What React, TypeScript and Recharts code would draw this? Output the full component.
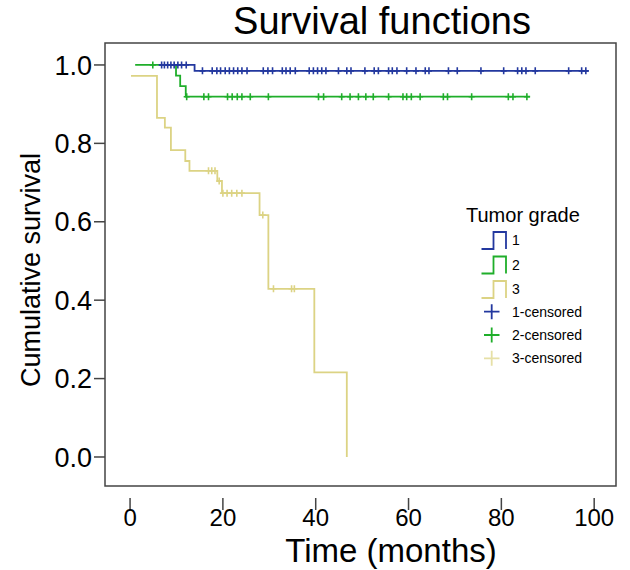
import { ComposedChart, Line, Scatter, XAxis, YAxis, ReferenceArea } from "recharts";

const FONT = "'Liberation Sans', Arial, sans-serif";

// Kaplan-Meier step points (time in months, cumulative survival)
const grade1Times = [6.3, 13.9, 98.8];
const grade1Surv = [1.0, 0.985, 0.985];
const grade1Censored = [
  6.8, 7.4, 8.1, 8.8, 9.5, 10.3, 11.1, 12.1, 15.6, 17.7, 18.7, 19.5, 20.5, 21.4, 22.3, 23.2, 24.1,
  25.2, 28.7, 29.7, 30.7, 32.8, 33.6, 34.5, 35.6, 38.6, 39.5, 40.4, 41.3, 42.2, 44.9, 46.7, 47.6,
  50.6, 52.6, 53.5, 55.7, 56.5, 57.5, 59.6, 61.6, 63.6, 64.4, 68.6, 70.5, 75.6, 80.5, 83.5, 84.4,
  85.3, 87.3, 94.5, 97.3, 98.2,
];

const grade2Times = [1.1, 9.9, 10.8, 12.0, 86.2];
const grade2Surv = [1.0, 0.973, 0.946, 0.919, 0.919];
const grade2Censored = [
  4.9, 12.2, 15.9, 16.9, 21.0, 22.0, 23.1, 24.1, 25.9, 29.8, 40.6, 41.7, 45.6, 47.4, 49.2, 50.8,
  52.4, 55.7, 58.8, 59.6, 60.6, 62.5, 67.5, 68.4, 73.6, 81.5, 82.5, 85.5,
];

const grade3Times = [0.2, 5.8, 7.5, 8.8, 11.9, 12.8, 18.8, 19.8, 27.9, 29.8, 39.7, 46.7];
const grade3Surv = [0.972, 0.865, 0.84, 0.783, 0.755, 0.73, 0.704, 0.673, 0.617, 0.429, 0.216, 0.0];
const grade3Censored = [16.9, 17.6, 18.3, 19.2, 20.0, 20.9, 21.9, 23.0, 24.1, 28.6, 30.9, 34.8, 35.4];

const gradeNames = ["1", "2", "3"];
const gradeColors = ["#23389f", "#1fae2a", "#dcd384"];
const censorColors = ["#23389f", "#1fae2a", "#e6e0a6"];

const xTicks = [0, 20, 40, 60, 80, 100];
const yTicks = [0, 0.2, 0.4, 0.6, 0.8, 1.0];
const xDomain = [-5.4, 104.7];
const yDomain = [-0.074, 1.056];

const toCurve = (times: number[], surv: number[]) => times.map((t, i) => ({ t, s: surv[i] }));

const survivalAt = (times: number[], surv: number[], t: number) => {
  let s = surv[0];
  times.forEach((tt, i) => {
    if (tt <= t) s = surv[i];
  });
  return s;
};

const toCensored = (censored: number[], times: number[], surv: number[]) =>
  censored.map((t) => ({ t, s: survivalAt(times, surv, t) }));

const curves = [
  toCurve(grade1Times, grade1Surv),
  toCurve(grade2Times, grade2Surv),
  toCurve(grade3Times, grade3Surv),
];
const censoredPoints = [
  toCensored(grade1Censored, grade1Times, grade1Surv),
  toCensored(grade2Censored, grade2Times, grade2Surv),
  toCensored(grade3Censored, grade3Times, grade3Surv),
];

const plusShape = (color: string) => (props: any) => {
  const { cx, cy } = props;
  return (
    <path
      d={`M${cx - 3},${cy}H${cx + 3}M${cx},${cy - 3.5}V${cy + 3.5}`}
      stroke={color}
      strokeWidth={1.6}
      fill="none"
    />
  );
};

const XTick = (props: any) => {
  const { x, y, payload } = props;
  return (
    <g>
      <line x1={x} x2={x} y1={y + 12} y2={y + 24} stroke="#444" strokeWidth={1.5} />
      <text x={x} y={y + 40} textAnchor="middle" fontSize={24} fontFamily={FONT} fill="#000">
        {payload.value}
      </text>
    </g>
  );
};

function LegendBox() {
  return (
    <svg width={630} height={570} style={{ position: "absolute", left: 0, top: 0, pointerEvents: "none" }}>
      <text x={466} y={222} fontSize={20} fontFamily={FONT} fill="#000">
        Tumor grade
      </text>
      {gradeNames.map((name, i) => {
        const y0 = 249 + i * 24.5;
        return (
          <g key={name}>
            <path
              d={`M481.5,${y0}H493.5V${y0 - 17}H506V${y0}`}
              stroke={gradeColors[i]}
              strokeWidth={1.8}
              fill="none"
            />
            <text x={512} y={y0 - 4} fontSize={14} fontFamily={FONT} fill="#000">
              {name}
            </text>
          </g>
        );
      })}
      {gradeNames.map((name, i) => {
        const cy = 311.7 + i * 23.3;
        return (
          <g key={`c${name}`}>
            <path
              d={`M484,${cy}H499.5M491.7,${cy - 7.5}V${cy + 7.5}`}
              stroke={censorColors[i]}
              strokeWidth={1.8}
              fill="none"
            />
            <text x={512} y={cy + 5} fontSize={14} fontFamily={FONT} fill="#000">
              {`${name}-censored`}
            </text>
          </g>
        );
      })}
    </svg>
  );
}

export default function App() {
  return (
    <div style={{ position: "absolute", left: 0, top: 0, width: 630, height: 570, background: "#fff" }}>
      <div
        style={{
          position: "absolute",
          left: 0,
          width: 764,
          top: 0,
          textAlign: "center",
          fontFamily: FONT,
          fontSize: 38,
          lineHeight: "42px",
          color: "#000",
        }}
      >
        Survival functions
      </div>
      <div style={{ position: "absolute", left: 0, top: 0 }}>
        <ComposedChart width={630} height={570} margin={{ top: 43, right: 14, bottom: 0, left: 0 }}>
          <XAxis
            type="number"
            dataKey="t"
            domain={xDomain}
            ticks={xTicks}
            allowDataOverflow
            height={84}
            axisLine={false}
            tickLine={false}
            tickSize={0}
            tickMargin={0}
            tick={XTick}
            label={{
              content: () => (
                <text x={391} y={562} textAnchor="middle" fontSize={33} fontFamily={FONT} fill="#000">
                  Time (months)
                </text>
              ),
            }}
          />
          <YAxis
            type="number"
            dataKey="s"
            domain={yDomain}
            ticks={yTicks}
            allowDataOverflow
            width={105}
            axisLine={false}
            tickSize={11}
            tickMargin={2}
            tickLine={{ stroke: "#444", strokeWidth: 1.5 }}
            tickFormatter={(v: number) => v.toFixed(1)}
            tick={{ fontSize: 27, fontFamily: FONT, fill: "#000" }}
            label={{
              content: () => (
                <text
                  x={40}
                  y={270}
                  transform="rotate(-90 40 270)"
                  textAnchor="middle"
                  fontSize={27}
                  fontFamily={FONT}
                  fill="#000"
                >
                  Cumulative survival
                </text>
              ),
            }}
          />
          <ReferenceArea
            x1={xDomain[0]}
            x2={xDomain[1]}
            y1={yDomain[0]}
            y2={yDomain[1]}
            fill="none"
            fillOpacity={0}
            stroke="#444"
            strokeWidth={1.5}
          />
          <Line data={curves[1]} dataKey="s" type="stepAfter" stroke={gradeColors[1]} strokeWidth={1.8} dot={false} isAnimationActive={false} />
          <Line data={curves[0]} dataKey="s" type="stepAfter" stroke={gradeColors[0]} strokeWidth={1.8} dot={false} isAnimationActive={false} />
          <Line data={curves[2]} dataKey="s" type="stepAfter" stroke={gradeColors[2]} strokeWidth={1.8} dot={false} isAnimationActive={false} />
          <Scatter data={censoredPoints[1]} dataKey="s" shape={plusShape(censorColors[1])} isAnimationActive={false} />
          <Scatter data={censoredPoints[0]} dataKey="s" shape={plusShape(censorColors[0])} isAnimationActive={false} />
          <Scatter data={censoredPoints[2]} dataKey="s" shape={plusShape(gradeColors[2])} isAnimationActive={false} />
        </ComposedChart>
      </div>
      <LegendBox />
    </div>
  );
}
